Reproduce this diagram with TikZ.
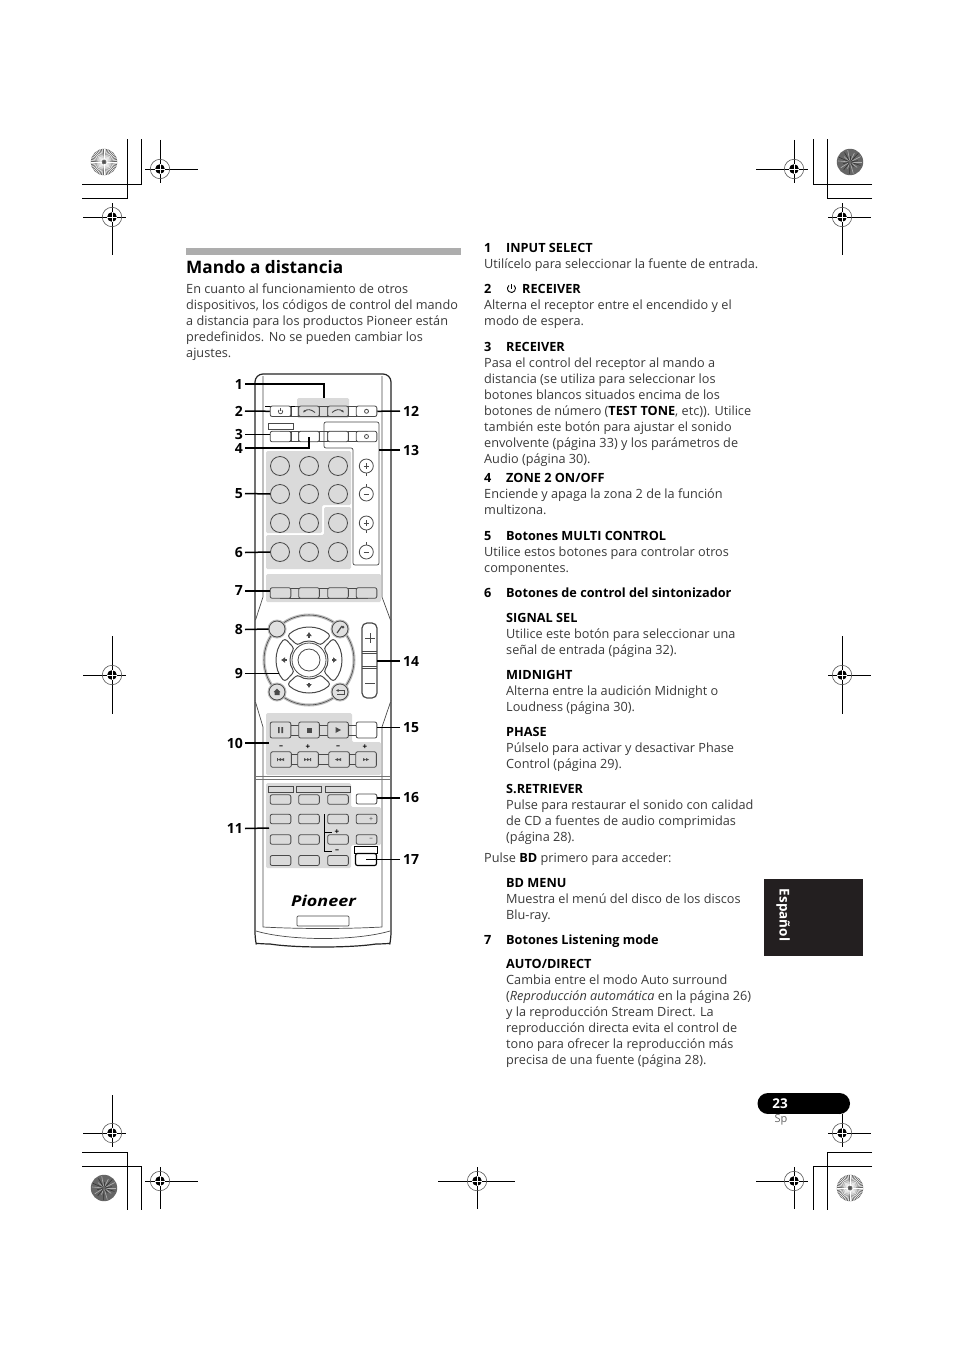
\documentclass[tikz,border=0pt]{standalone}
\usepackage{fontspec}
\setmainfont{Open Sans}
\usetikzlibrary{arrows.meta,calc}
\definecolor{txtc}{HTML}{3A3A3A}
\definecolor{reg}{HTML}{DADADA}
\definecolor{lin}{HTML}{4A4A4A}
\definecolor{tabc}{HTML}{231F20}
\tikzset{
  txt/.style={inner sep=0pt,anchor=base west,text=txtc,font=\fontsize{12.7}{16}\selectfont},
  hd/.style={inner sep=0pt,anchor=base west,text=black,font=\fontsize{12.7}{16}\selectfont\bfseries},
  num/.style={font=\fontsize{14}{16}\selectfont\bfseries,text=black,inner ysep=0pt},
  numl/.style={num,anchor=east,inner xsep=2pt},
  numr/.style={num,anchor=west,inner xsep=3pt},
  lead/.style={draw=black,line width=1.5pt},
  btn/.style={draw=lin,line width=.8pt,rounded corners=2pt,inner sep=0pt,minimum width=20.7pt,minimum height=10.5pt,fill=white},
  gbtn/.style={btn,fill=reg},
  rbtn/.style={draw=lin,line width=.8pt,circle,inner sep=0pt,minimum size=19pt,fill=reg},
  sbtn/.style={draw=lin,line width=.8pt,circle,inner sep=0pt,minimum size=14pt,fill=white},
  region/.style={fill=reg,draw=none,rounded corners=1.5pt},
  shell/.style={draw=lin,line width=.7pt},
  shellk/.style={draw=black!85,line width=1.2pt},
  bar/.style={draw=lin,line width=.6pt},
  crop/.style={draw=black,line width=.9pt},
  ico/.style={fill=lin,draw=none},
  tiny/.style={inner sep=0pt,font=\fontsize{8}{8}\selectfont\bfseries,text=black},
}
\newcounter{tn}
\newcommand{\tl}[3]{\stepcounter{tn}\node[txt] (t\thetn) at (#1,#2) {#3};}
\newcommand{\hl}[3]{\stepcounter{tn}\node[hd] (t\thetn) at (#1,#2) {#3};}
% registration mark: cx cy x0 x1 y0 y1
\newcommand{\regmark}[6]{%
  \draw[crop] (#3,#2) -- (#4,#2);
  \draw[crop] (#1,#5) -- (#1,#6);
  \draw[draw=black!65,line width=.6pt] (#1,#2) circle[radius=9.7];
  \fill[black] (#1,#2) circle[radius=4.8];
  \draw[white,line width=.9pt] (#1-4.8,#2) -- (#1+4.8,#2) (#1,#2-4.8) -- (#1,#2+4.8);
}
\newcommand{\lightsun}[2]{%
  \fill[black!60] (#1,#2) circle[radius=13.2];
  \foreach \a in {0,7.5,...,352.5}{\draw[white,line width=.5pt] ($(#1,#2)+(\a:2.5)$) -- ($(#1,#2)+(\a:13.2)$);}
  \fill[black!70] (#1,#2) circle[radius=1.2];
}
\newcommand{\darksun}[2]{%
  \fill[black!60] (#1,#2) circle[radius=13.2];
  \foreach \a/\r in {0/12,37/9,74/12,111/7,148/11,185/12,222/8,259/12,296/10,333/12}{\draw[black!30,line width=.6pt] ($(#1,#2)+(\a:1.5)$) -- ($(#1,#2)+(\a:\r)$);}
  \foreach \a/\r in {18/11,55/6,92/12,129/10,166/7,203/12,240/11,277/6,314/12,351/8}{\draw[black!80,line width=.6pt] ($(#1,#2)+(\a:1.5)$) -- ($(#1,#2)+(\a:\r)$);}
}
% power symbol: cx cy radius
\newcommand{\pwr}[3]{%
  \draw[line width=.9pt,draw=black] (#1,#2) ++(-50:#3) arc[start angle=-50,end angle=230,radius=#3];
  \draw[line width=.9pt,draw=black] (#1,#2) -- ++(0,-#3-1);
}
\begin{document}
\begin{tikzpicture}[x=1pt,y=-1pt]
\useasboundingbox (0,0) rectangle (954,1351);
\fill[white] (0,0) rectangle (954,1351);

% crop marks
\draw[crop] (82,198) -- (127,198) -- (127,139);
\draw[crop] (82,184) -- (141,184) -- (141,139);
\draw[crop] (872,184) -- (813,184) -- (813,139);
\draw[crop] (872,198) -- (827,198) -- (827,139);
\draw[crop] (82,1152) -- (127,1152) -- (127,1210);
\draw[crop] (82,1166) -- (141,1166) -- (141,1210);
\draw[crop] (872,1152) -- (827,1152) -- (827,1210);
\draw[crop] (872,1166) -- (813,1166) -- (813,1210);
\lightsun{104}{162}
\darksun{850}{162}
\darksun{104}{1188}
\lightsun{850}{1188}
\regmark{160}{169}{145}{198}{140}{183}
\regmark{112}{217}{83}{126}{203}{255}
\regmark{794}{169}{756}{808}{140}{183}
\regmark{842}{217}{828}{871}{203}{255}
\regmark{112}{675}{83}{126}{636}{714}
\regmark{842}{675}{828}{871}{636}{714}
\regmark{112}{1133}{83}{126}{1095}{1147}
\regmark{842}{1133}{828}{871}{1114}{1147}
\regmark{160}{1181}{145}{198}{1167}{1209}
\regmark{794}{1181}{756}{808}{1167}{1209}
\regmark{477}{1181}{438}{515}{1167}{1209}

% left column
\fill[black!32] (186,248) rectangle (461,255);
\node[inner sep=0pt,anchor=base west,text=black,font=\fontsize{17.2}{20}\selectfont\bfseries] (title) at (186,273.5) {Mando a distancia};
\tl{186}{293}{En cuanto al funcionamiento de otros}
\tl{186}{309}{dispositivos, los códigos de control del mando}
\tl{186}{325}{a distancia para los productos Pioneer están}
\tl{186}{341}{predefinidos. No se pueden cambiar los}
\tl{186}{357}{ajustes.}

% right column
\hl{484}{252}{1}\hl{506}{252}{INPUT SELECT}
\tl{484}{268}{Utilícelo para seleccionar la fuente de entrada.}
\hl{484}{293}{2}\hl{522}{293}{RECEIVER}
\pwr{511.5}{288.5}{4}
\tl{484}{309}{Alterna el receptor entre el encendido y el}
\tl{484}{325}{modo de espera.}
\hl{484}{351}{3}\hl{506}{351}{RECEIVER}
\tl{484}{367}{Pasa el control del receptor al mando a}
\tl{484}{383}{distancia (se utiliza para seleccionar los}
\tl{484}{399}{botones blancos situados encima de los}
\tl{484}{415}{botones de número (\textcolor{black}{\bfseries TEST TONE}, etc)). Utilice}
\tl{484}{431}{también este botón para ajustar el sonido}
\tl{484}{447}{envolvente (página 33) y los parámetros de}
\tl{484}{463}{Audio (página 30).}
\hl{484}{482}{4}\hl{506}{482}{ZONE 2 ON/OFF}
\tl{484}{498}{Enciende y apaga la zona 2 de la función}
\tl{484}{514}{multizona.}
\hl{484}{540}{5}\hl{506}{540}{Botones MULTI CONTROL}
\tl{484}{556}{Utilice estos botones para controlar otros}
\tl{484}{572}{componentes.}
\hl{484}{597}{6}\hl{506}{597}{Botones de control del sintonizador}
\hl{506}{622}{SIGNAL SEL}
\tl{506}{638}{Utilice este botón para seleccionar una}
\tl{506}{654}{señal de entrada (página 32).}
\hl{506}{679}{MIDNIGHT}
\tl{506}{695}{Alterna entre la audición Midnight o}
\tl{506}{711}{Loudness (página 30).}
\hl{506}{736}{PHASE}
\tl{506}{752}{Púlselo para activar y desactivar Phase}
\tl{506}{768}{Control (página 29).}
\hl{506}{793}{S.RETRIEVER}
\tl{506}{809}{Pulse para restaurar el sonido con calidad}
\tl{506}{825}{de CD a fuentes de audio comprimidas}
\tl{506}{841}{(página 28).}
\tl{484}{862}{Pulse \textcolor{black}{\bfseries BD} primero para acceder:}
\hl{506}{887}{BD MENU}
\tl{506}{903}{Muestra el menú del disco de los discos}
\tl{506}{919}{Blu-ray.}
\hl{484}{944}{7}\hl{506}{944}{Botones Listening mode}
\hl{506}{968}{AUTO/DIRECT}
\tl{506}{984}{Cambia entre el modo Auto surround}
\tl{506}{1000}{(\textit{Reproducción automática} en la página 26)}
\tl{506}{1016}{y la reproducción Stream Direct. La}
\tl{506}{1032}{reproducción directa evita el control de}
\tl{506}{1048}{tono para ofrecer la reproducción más}
\tl{506}{1064}{precisa de una fuente (página 28).}

% language tab and page number
\fill[tabc] (764,879) rectangle (863,956);
\node[rotate=-90,inner sep=0pt,text=white,font=\fontsize{13.5}{14}\selectfont\bfseries] (lang) at (783,915) {Español};
\fill[black] (767.5,1093) rectangle (840,1114);
\fill[black] (768,1103.5) circle[radius=10.5];
\fill[black] (839.5,1103.5) circle[radius=10.5];
\node[inner sep=0pt,text=white,font=\fontsize{13.5}{14}\selectfont\bfseries] (pg) at (780,1103.5) {23};
\node[inner sep=0pt,text=black!60,font=\fontsize{11}{11}\selectfont] (sp) at (781,1120) {Sp};

% ---------- remote ----------
% shell
\draw[shellk,rounded corners=8pt] (255,700) -- (255,374) -- (391,374) -- (391,700);
\draw[shellk,rounded corners=6pt] (255,700) -- (255,938) .. controls (256,943) and (262,944) .. (270,944);
\draw[shellk] (270,944) .. controls (295,948) and (350,948) .. (376,944);
\draw[shellk,rounded corners=6pt] (376,944) .. controls (385,944) and (390,943) .. (391,938) -- (391,700);
\draw[shell] (263,376) -- (263,597) -- (255.5,620);
\draw[shell] (382,376) -- (382,597) -- (390.5,620);
\draw[shell] (255.5,702) -- (263,727) -- (263,927);
\draw[shell] (390.5,702) -- (382,727) -- (382,927);
\draw[shell] (263,927) .. controls (300,929) and (345,929) .. (382,927);
\draw[shell] (256,931) .. controls (290,941) and (356,941) .. (390,931);
\draw[shell,draw=black!55] (255,776.5) -- (391,776.5);
\draw[shell,draw=black!55] (255,779.5) -- (391,779.5);

% regions
\node[region,minimum width=52pt,minimum height=20pt,inner sep=0pt] (gtop) at (323,408) {};
\fill[region] (266,451) -- (351,451) -- (351,505) -- (322,505) -- (322,533) -- (266,533) -- cycle;
\fill[region] (324,507) -- (351,507) -- (351,569) -- (266,569) -- (266,535) -- (324,535) -- cycle;
\fill[region] (266,574) rectangle (381,602);
\fill[region] (266,713) -- (352,713) -- (352,742) -- (381,742) -- (381,775) -- (266,775) -- cycle;
\fill[region] (266,783) -- (351,783) -- (351,807) -- (381,807) -- (381,845) -- (351,845) -- (351,868) -- (266,868) -- cycle;
\coordinate (r10) at (269,743);
\coordinate (r11) at (269,828);

% selector outline 13
\draw[shell,rounded corners=2pt] (324,448) -- (324,422) -- (379,422) -- (379,565) -- (353,565) -- (353,448) -- cycle;
\coordinate (r13) at (379,450);

% row bars
\foreach \y in {411,436.5,593,730,759.5}{\draw[bar] (280,\y-5.2) rectangle (367,\y+5.2);}
\foreach \x in {291,298,319,327.7,348.5,356}{
  \draw[bar] (\x,405.8) -- (\x,416.2);
  \draw[bar] (\x,431.3) -- (\x,441.7);
}
\draw[draw=black,line width=.8pt] (265,406) -- (295,406);

% row 1 / 2 buttons
\node[btn] (b2) at (280.5,411.3) {};
\node[gbtn] (bsa) at (309,411.3) {};
\node[gbtn] (bsb) at (338,411.3) {};
\node[btn] (b12) at (366.5,411.3) {};
\draw[lin,line width=.7pt] (280.5,411.6) ++(-50:2.2) arc[start angle=-50,end angle=230,radius=2.2];
\draw[lin,line width=.7pt] (280.5,408.4) -- (280.5,411.4);
\draw[lin,line width=.9pt,-{Latex[length=2.5pt,width=2.5pt]}] (315,412.5) .. controls (311,409) and (307,409) .. (303,412.5);
\draw[lin,line width=.9pt,-{Latex[length=2.5pt,width=2.5pt]}] (332,412.5) .. controls (336,409) and (340,409) .. (344,412.5);
\draw[lin,line width=.8pt] (366.5,411.3) circle[radius=2];
\node[draw=lin,line width=.8pt,fill=white,inner sep=0pt,minimum width=25pt,minimum height=6pt] (lab3) at (280.5,426) {};
\node[btn] (b3) at (280.5,436.5) {};
\node[btn] (b4) at (309,436.5) {};
\node[btn] (bz) at (338,436.5) {};
\node[btn] (bz2) at (366.5,436.5) {};
\draw[lin,line width=.8pt] (366.5,436.5) circle[radius=2];

% number pad
\foreach \cx/\cn in {280/a,309/b,338/c}{\foreach \cy/\rn in {466/1,494/2,523/3,552/4}{\node[rbtn] (k\cn\rn) at (\cx,\cy) {};}}
% volume circles
\foreach \cy/\rn/\sg in {466/1/+,494/2/-,523/3/+,552/4/-}{
  \node[sbtn] (v\rn) at (366.3,\cy) {};
  \draw[lin,line width=.8pt] (363.5,\cy) -- (369,\cy);
}
\draw[lin,line width=.8pt] (366.3,463.3) -- (366.3,468.7) (366.3,520.3) -- (366.3,525.7);
\draw[lin,line width=.6pt] (366.3,473) -- (366.3,476) (366.3,484) -- (366.3,487) (366.3,530) -- (366.3,533) (366.3,542) -- (366.3,545);

% row 7
\node[gbtn] (b7) at (280.5,593) {};
\node[gbtn] (b7b) at (309,593) {};
\node[gbtn] (b7c) at (338,593) {};
\node[gbtn] (b7d) at (366.5,593) {};

% ring
\draw[draw=black!25,line width=3pt] (309,660) circle[radius=45];
\draw[draw=lin,line width=.6pt] (309,660) circle[radius=45];
\begin{scope}[shift={(309,660)}]
  \foreach \a in {0,90,180,270}{
    \draw[draw=lin,line width=1pt,fill=white,rounded corners=3pt] (\a-42:32.5) arc[start angle=\a-42,end angle=\a+42,radius=32.5] -- (\a+38:18.5) arc[start angle=\a+38,end angle=\a-38,radius=18.5] -- cycle;
    \draw[lin,line width=1.2pt,{Latex[length=4pt,width=6pt]}-] (\a:25) ++(\a:3) -- ++(\a:-5.5);
  }
\end{scope}
\node[draw=lin,line width=.8pt,circle,inner sep=0pt,minimum size=34pt,fill=white] (okout) at (309,660) {};
\node[draw=lin,line width=.8pt,circle,inner sep=0pt,minimum size=22pt,fill=white] (ok) at (309,660) {};
\coordinate (dpad) at (279,673.5);
\foreach \cx/\cy/\nm in {277/629/c1,340/629/c2,277/692/c3,340/692/c4}{
  \fill[black!25] (\cx,\cy) circle[radius=9.5];
  \node[draw=lin,line width=.8pt,circle,inner sep=0pt,minimum size=16pt,fill=black!12] (\nm) at (\cx,\cy) {};
}
\draw[lin,line width=1.2pt] (337,633) -- (342,626);
\fill[lin] (343,627) circle[radius=1.5];
\fill[lin] (273.5,692) -- (277,688.5) -- (280.5,692) -- (279.5,692) -- (279.5,695) -- (274.5,695) -- (274.5,692) -- cycle;
\draw[lin,line width=.9pt,-{Latex[length=2.5pt,width=3pt]}] (337,694) -- (344,694) -- (344,690.5) -- (336,690.5);

% volume pill
\draw[draw=lin,line width=1.2pt,fill=white,rounded corners=5pt] (362,623) rectangle (377,698);
\draw[draw=lin,line width=.7pt] (362,651.5) -- (377,651.5) (362,653.5) -- (377,653.5) (362,666) -- (377,666) (362,668) -- (377,668);
\coordinate (vol) at (377,661);
\draw[lin,line width=.9pt] (365,638) -- (375,638) (370,633) -- (370,643);
\draw[lin,line width=.9pt] (365,683) -- (375,683);

% transport
\node[gbtn,minimum height=16pt] (tr1) at (280.5,730) {};
\node[gbtn,minimum height=16pt] (tr2) at (309,730) {};
\node[gbtn,minimum height=16pt] (tr3) at (338,730) {};
\node[btn,minimum height=16pt] (b15) at (366.5,730) {};
\fill[lin] (278,727) rectangle (279.7,733) (281.3,727) rectangle (283,733);
\fill[lin] (306.5,727.5) rectangle (311.5,732.5);
\fill[lin] (335.5,727) -- (341,730) -- (335.5,733) -- cycle;
\node[gbtn,minimum height=15.5pt] (sk1) at (281,759.5) {};
\node[gbtn,minimum height=15.5pt] (sk2) at (308,759.5) {};
\node[gbtn,minimum height=15.5pt] (sk3) at (339,759.5) {};
\node[gbtn,minimum height=15.5pt] (sk4) at (366,759.5) {};
\fill[lin] (277,758) rectangle (277.8,761) (281,758) -- (278,759.5) -- (281,761) -- cycle (284,758) -- (281,759.5) -- (284,761) -- cycle;
\fill[lin] (304,758) -- (307,759.5) -- (304,761) -- cycle (307,758) -- (310,759.5) -- (307,761) -- cycle (310.2,758) rectangle (311,761);
\fill[lin] (338,758) -- (335,759.5) -- (338,761) -- cycle (341,758) -- (338,759.5) -- (341,761) -- cycle;
\fill[lin] (363,758) -- (366,759.5) -- (363,761) -- cycle (366,758) -- (369,759.5) -- (366,761) -- cycle;
\node[tiny] (m1) at (281,747) {–};
\node[tiny] (p1) at (308,747) {+};
\node[tiny] (m2) at (338,747) {–};
\node[tiny] (p2) at (365,747) {+};

% lower block
\foreach \cx/\nm in {280.5/a,309/b,338/c}{
  \node[draw=lin,line width=.7pt,fill=reg,inner sep=0pt,minimum width=25pt,minimum height=6pt] (s\nm) at (\cx,789) {};
  \node[gbtn,minimum height=9.5pt] (u\nm1) at (\cx,799.5) {};
  \node[gbtn,minimum height=9.5pt] (u\nm2) at (\cx,819) {};
  \node[gbtn,minimum height=9.5pt] (u\nm3) at (\cx,839.5) {};
  \node[gbtn,minimum height=10pt] (u\nm4) at (\cx,860.5) {};
}
\node[btn,minimum height=10pt] (b16) at (366.5,799) {};
\node[gbtn,minimum height=9.5pt] (upl) at (366.5,819) {};
\node[gbtn,minimum height=9.5pt] (umi) at (366.5,839.5) {};
\node[inner sep=0pt,font=\fontsize{7}{7}\selectfont,text=lin] (uplt) at (371,819) {+};
\node[inner sep=0pt,font=\fontsize{7}{7}\selectfont,text=lin] (umit) at (371,839.5) {–};
\draw[draw=black,line width=.9pt] (324.5,814) -- (324.5,851.5) -- (332,851.5) (324.5,832) -- (332,832);
\node[tiny] (bp) at (337,832) {+};
\node[tiny] (bm) at (337,851.5) {–};
\node[draw=black,line width=.9pt,fill=white,inner sep=0pt,minimum width=23pt,minimum height=7pt] (lab17) at (365.5,849.5) {};
\node[draw=black,line width=1.2pt,rounded corners=2pt,fill=white,inner sep=0pt,minimum width=21pt,minimum height=12pt] (b17) at (366,859.5) {};

% logo and slot
\node[inner sep=0pt,xscale=1.2,font=\fontsize{15}{16}\selectfont\bfseries\itshape,text=black] (logo) at (323.5,901) {Pioneer};
\node[draw=lin,line width=.7pt,rounded corners=1pt,fill=white,inner sep=0pt,minimum width=52pt,minimum height=10pt] (slot) at (323,921) {};

% numbers and leaders
\node[numl] (l1) at (245,384) {1};
\node[numl] (l2) at (245,411) {2};
\node[numl] (l3) at (245,434.5) {3};
\node[numl] (l4) at (245,448) {4};
\node[numl] (l5) at (245,493.5) {5};
\node[numl] (l6) at (245,552.5) {6};
\node[numl] (l7) at (245,591) {7};
\node[numl] (l8) at (245,629.5) {8};
\node[numl] (l9) at (245,673.5) {9};
\node[numl] (l10) at (245,743) {10};
\node[numl] (l11) at (245,828.5) {11};
\node[numr] (l12) at (400,411) {12};
\node[numr] (l13) at (400,450) {13};
\node[numr] (l14) at (400,661) {14};
\node[numr] (l15) at (400,727.5) {15};
\node[numr] (l16) at (400,798) {16};
\node[numr] (l17) at (400,859.5) {17};

\draw[lead] (l1.east) -| ([xshift=1pt]gtop.north);
\draw[lead] (l2.east) -- (b2.west);
\draw[lead] (l3.east) -- (l3.east -| b3.west);
\draw[lead] (l4.east) -| (b4.center);
\draw[lead] (l5.east) -- (ka2.west);
\draw[lead] (l6.east) -- (ka4.west);
\draw[lead] (l7.east) -- (l7.east -| b7.west);
\draw[lead] (l8.east) -- (c1.west);
\draw[lead] (l9.east) -- (dpad);
\draw[lead] (l10.east) -- (r10);
\draw[lead] (l11.east) -- (r11);
\draw[lead] (l12.west) -- (b12.east);
\draw[lead] (l13.west) -- (r13);
\draw[lead] (l14.west) -- (vol);
\draw[lead] (l15.west) -- (l15.west -| b15.east);
\draw[lead] (l16.west) -- (l16.west -| b16.east);
\draw[lead] (l17.west) -- (l17.west -| b17.center);
\end{tikzpicture}
\end{document}
